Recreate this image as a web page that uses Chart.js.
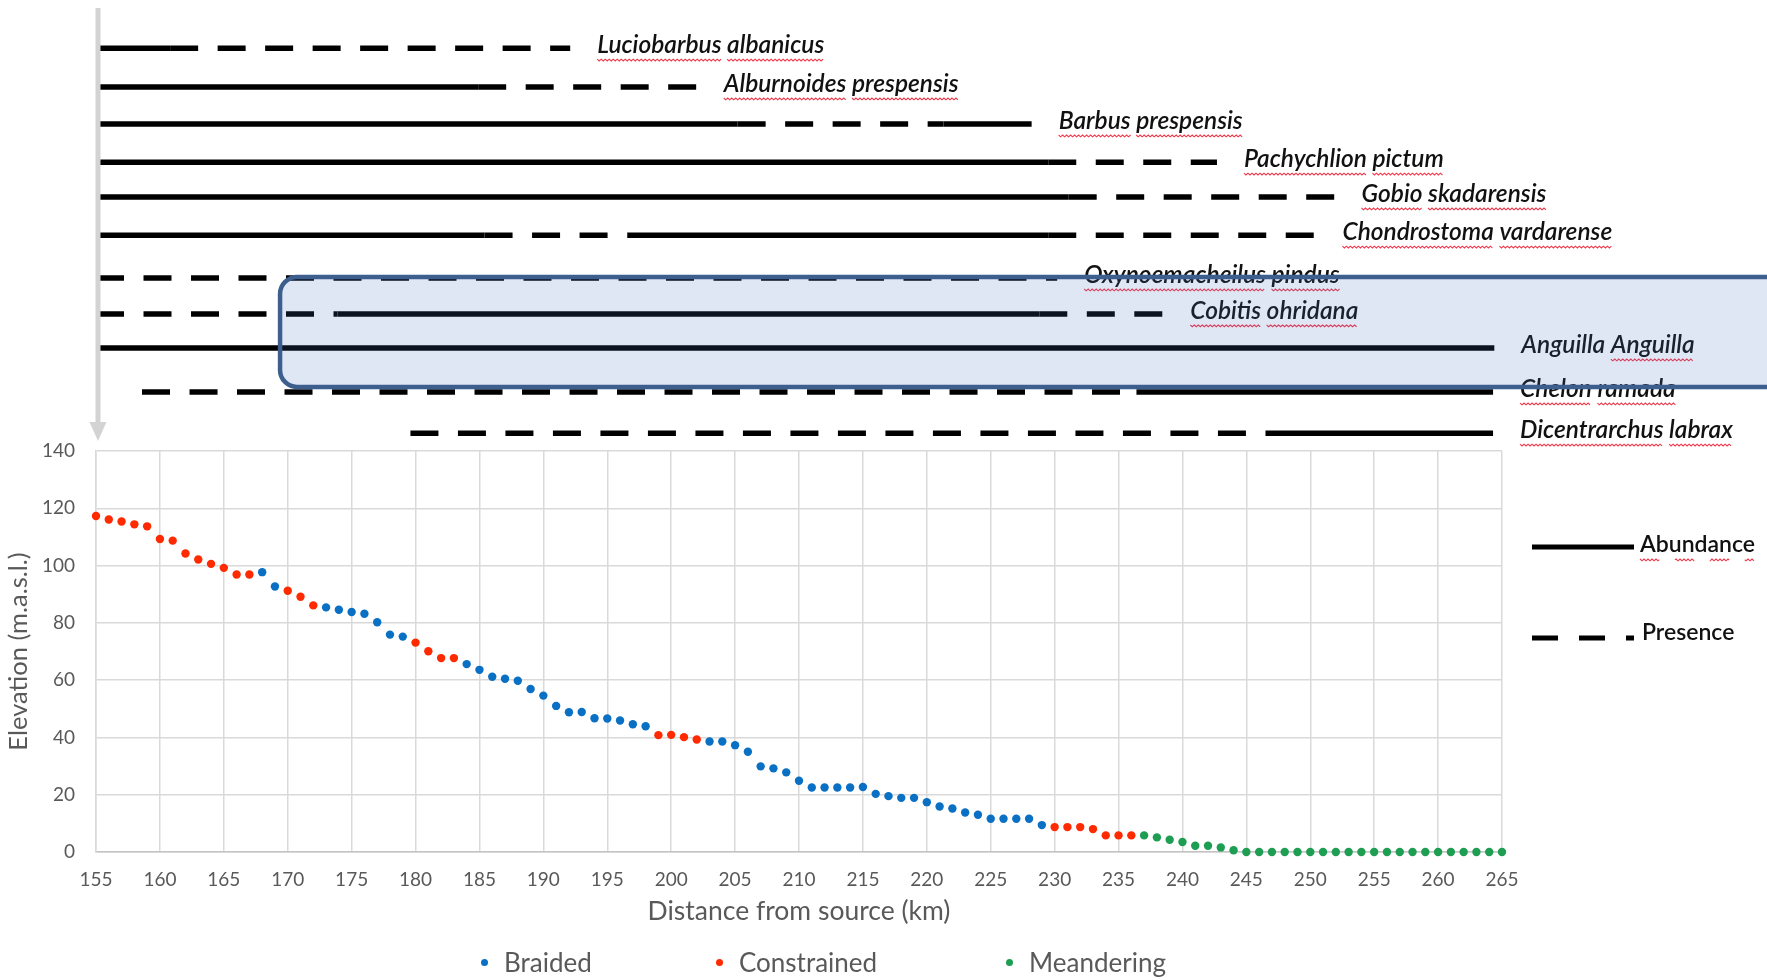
<!DOCTYPE html>
<html>
<head>
<meta charset="utf-8">
<title>Fish species along the river and elevation profile</title>
<script src="https://cdn.jsdelivr.net/npm/chart.js@4.4.1/dist/chart.umd.min.js"></script>
<style>
  html, body { margin: 0; padding: 0; background: #fff; }
  #page { position: relative; width: 1767px; height: 980px; overflow: hidden; font-family: Lato, sans-serif; }
  #speciesChart { position: absolute; left: 0; top: 0; }
  #profileChart { position: absolute; left: 0; top: 430px; }
  .legend-item { position: absolute; top: 946px; height: 32px; line-height: 32px; font-size: 26px; color: #595959; white-space: nowrap; padding-left: 23px; }
  .legend-dot { position: absolute; left: 0; top: 13px; width: 7px; height: 7px; border-radius: 50%; }
</style>
</head>
<body>
<div id="page">
  <canvas id="speciesChart" width="1767" height="450"></canvas>
  <canvas id="profileChart" width="1767" height="550"></canvas>
  <div id="reachLegend"></div>
</div>
<script>
// Elevation profile: one point per km
const km = [
  155, 156, 157, 158, 159, 160, 161, 162, 163, 164,
  165, 166, 167, 168, 169, 170, 171, 172, 173, 174,
  175, 176, 177, 178, 179, 180, 181, 182, 183, 184,
  185, 186, 187, 188, 189, 190, 191, 192, 193, 194,
  195, 196, 197, 198, 199, 200, 201, 202, 203, 204,
  205, 206, 207, 208, 209, 210, 211, 212, 213, 214,
  215, 216, 217, 218, 219, 220, 221, 222, 223, 224,
  225, 226, 227, 228, 229, 230, 231, 232, 233, 234,
  235, 236, 237, 238, 239, 240, 241, 242, 243, 244,
  245, 246, 247, 248, 249, 250, 251, 252, 253, 254,
  255, 256, 257, 258, 259, 260, 261, 262, 263, 264,
  265
];
const elevation = [
  117.3, 116.1, 115.4, 114.4, 113.7, 109.3, 108.7, 104.2, 102.1, 100.6,
  99.2, 96.9, 96.9, 97.7, 92.7, 91.2, 89.1, 86.1, 85.4, 84.6,
  83.8, 83.2, 80.2, 75.9, 75.2, 73.1, 70.1, 67.7, 67.7, 65.6,
  63.6, 61.2, 60.5, 59.8, 56.9, 54.6, 51.0, 48.8, 48.9, 46.7,
  46.6, 45.9, 44.6, 43.9, 40.8, 40.9, 40.1, 39.3, 38.6, 38.6,
  37.3, 35.0, 29.9, 29.2, 27.8, 24.9, 22.5, 22.5, 22.5, 22.5,
  22.7, 20.3, 19.5, 18.9, 18.9, 17.4, 15.9, 15.2, 13.8, 13.0,
  11.6, 11.6, 11.6, 11.6, 9.4, 8.7, 8.7, 8.7, 8.0, 5.8,
  5.8, 5.8, 5.8, 5.1, 4.3, 3.5, 2.2, 2.2, 1.6, 0.6,
  0, 0, 0, 0, 0, 0, 0, 0, 0, 0,
  0, 0, 0, 0, 0, 0, 0, 0, 0, 0,
  0
];
// B = braided, C = constrained, M = meandering
const reach = [
  'C', 'C', 'C', 'C', 'C', 'C', 'C', 'C', 'C', 'C',
  'C', 'C', 'C', 'B', 'B', 'C', 'C', 'C', 'B', 'B',
  'B', 'B', 'B', 'B', 'B', 'C', 'C', 'C', 'C', 'B',
  'B', 'B', 'B', 'B', 'B', 'B', 'B', 'B', 'B', 'B',
  'B', 'B', 'B', 'B', 'C', 'C', 'C', 'C', 'B', 'B',
  'B', 'B', 'B', 'B', 'B', 'B', 'B', 'B', 'B', 'B',
  'B', 'B', 'B', 'B', 'B', 'B', 'B', 'B', 'B', 'B',
  'B', 'B', 'B', 'B', 'B', 'C', 'C', 'C', 'C', 'C',
  'C', 'C', 'M', 'M', 'M', 'M', 'M', 'M', 'M', 'M',
  'M', 'M', 'M', 'M', 'M', 'M', 'M', 'M', 'M', 'M',
  'M', 'M', 'M', 'M', 'M', 'M', 'M', 'M', 'M', 'M',
  'M'
];
const reachTypes = ['B', 'C', 'M'];
const reachNames = ['Braided', 'Constrained', 'Meandering'];
const reachColors = ['#0A70C4', '#FF2A00', '#1E9E52'];

// Species ranges along the river
const species = [
  'Luciobarbus albanicus', 'Alburnoides prespensis', 'Barbus prespensis',
  'Pachychlion pictum', 'Gobio skadarensis', 'Chondrostoma vardarense',
  'Oxynoemacheilus pindus', 'Cobitis ohridana', 'Anguilla Anguilla',
  'Chelon ramada', 'Dicentrarchus labrax'
];
const speciesLevel = [1.04, 2.1, 3.11, 4.15, 5.1, 6.14, 7.31, 8.29, 9.22, 10.42, 11.54];
// [from km, to km, 'A' = abundance | 'P' = presence]
const speciesRanges = [
  [[155, 160.8, 'A'], [160.8, 192.1, 'P']],
  [[155, 184.9, 'A'], [184.9, 202.0, 'P']],
  [[155, 205.2, 'A'], [205.2, 221.3, 'P'], [221.3, 228.2, 'A']],
  [[155, 229.5, 'A'], [229.5, 242.7, 'P']],
  [[155, 231.1, 'A'], [231.1, 251.9, 'P']],
  [[155, 185.4, 'A'], [185.4, 196.6, 'P'], [196.6, 229.5, 'A'], [229.5, 250.4, 'P']],
  [[155, 230.2, 'P']],
  [[155, 173.9, 'P'], [173.9, 228.8, 'A'], [228.8, 238.5, 'P']],
  [[155, 264.4, 'A']],
  [[158.6, 236.4, 'P'], [236.4, 264.3, 'A']],
  [[179.6, 246.5, 'P'], [246.5, 264.3, 'A']]
];
// highlighted group (km start, lane top, lane bottom)
const highlight = { fromKm: 169.4, topLevel: 7.28, bottomLevel: 10.28 };

const DASH = [28, 19.5];

function squiggle(ctx, x0, y0, w) {
  ctx.save();
  ctx.strokeStyle = '#f2384a';
  ctx.lineWidth = 1.1;
  ctx.beginPath();
  for (let i = 0; i <= w; i += 2) {
    const yy = y0 + ((i / 2) % 2 ? 1.8 : 0);
    if (i === 0) ctx.moveTo(x0 + i, yy); else ctx.lineTo(x0 + i, yy);
  }
  ctx.stroke();
  ctx.restore();
}

function roundedBox(ctx, l, t, r, b, rad) {
  ctx.beginPath();
  ctx.moveTo(l + rad, t);
  ctx.lineTo(r, t);
  ctx.lineTo(r, b);
  ctx.lineTo(l + rad, b);
  ctx.arcTo(l, b, l, b - rad, rad);
  ctx.lineTo(l, t + rad);
  ctx.arcTo(l, t, l + rad, t, rad);
  ctx.closePath();
}

// Species labels, distance arrow and highlight box
const speciesDecor = {
  id: 'speciesDecor',
  afterDatasetsDraw(chart) {
    const { ctx, scales: { x, y } } = chart;
    ctx.save();
    ctx.font = 'italic 600 24.5px Lato';
    ctx.fillStyle = '#111';
    ctx.textBaseline = 'middle';
    const space = ctx.measureText(' ').width;
    species.forEach((name, i) => {
      const ranges = speciesRanges[i];
      const end = ranges[ranges.length - 1][1];
      const px = x.getPixelForValue(end) + 27;
      const py = y.getPixelForValue(speciesLevel[i]) - 3;
      ctx.fillText(name, px, py);
      let wx = px;
      name.split(' ').forEach((word, k) => {
        const w = ctx.measureText(word).width;
        if (!(name === 'Anguilla Anguilla' && k === 0)) squiggle(ctx, wx, py + 14, w);
        wx += w + space;
      });
    });
    ctx.restore();
  },
  afterDraw(chart) {
    const { ctx, chartArea, scales: { x, y } } = chart;
    ctx.save();
    // grey arrow (downstream direction)
    const ax = chartArea.left + 2;
    ctx.strokeStyle = '#d3d3d3';
    ctx.fillStyle = '#d3d3d3';
    ctx.lineWidth = 5;
    ctx.beginPath();
    ctx.moveTo(ax, 8);
    ctx.lineTo(ax, 424);
    ctx.stroke();
    ctx.beginPath();
    ctx.moveTo(ax - 8.5, 422);
    ctx.lineTo(ax + 8.5, 422);
    ctx.lineTo(ax, 441);
    ctx.closePath();
    ctx.fill();
    // highlight box
    const l = x.getPixelForValue(highlight.fromKm);
    const t = y.getPixelForValue(highlight.topLevel);
    const b = y.getPixelForValue(highlight.bottomLevel);
    roundedBox(ctx, l, t, chart.width + 20, b, 17);
    ctx.fillStyle = 'rgba(68, 114, 196, 0.17)';
    ctx.fill();
    ctx.strokeStyle = '#3d5f8e';
    ctx.lineWidth = 4.5;
    ctx.stroke();
    ctx.restore();
  }
};

const speciesDatasets = [];
species.forEach((name, i) => {
  speciesRanges[i].forEach(([from, to, kind]) => {
    speciesDatasets.push({
      label: name,
      data: [{ x: from, y: speciesLevel[i] }, { x: to, y: speciesLevel[i] }],
      borderColor: '#000',
      borderWidth: 5.5,
      borderDash: kind === 'P' ? DASH : [],
      borderCapStyle: 'butt',
      pointRadius: 0,
      fill: false
    });
  });
});

new Chart(document.getElementById('speciesChart'), {
  type: 'line',
  data: { datasets: speciesDatasets },
  options: {
    responsive: false,
    animation: false,
    layout: { padding: { left: 96, right: 265, top: 10, bottom: 0 } },
    scales: {
      x: { type: 'linear', min: 155, max: 265, display: false },
      y: { type: 'linear', min: 0, max: 12, reverse: true, display: false }
    },
    plugins: { legend: { display: false }, tooltip: { enabled: false } }
  },
  plugins: [speciesDecor]
});

// Abundance / Presence key on the right of the profile
const lineKey = {
  id: 'lineKey',
  afterDraw(chart) {
    const { ctx, chartArea } = chart;
    const x0 = chartArea.right + 30;
    const x1 = x0 + 102;
    ctx.save();
    ctx.strokeStyle = '#000';
    ctx.lineWidth = 5;
    ctx.lineCap = 'butt';
    ctx.beginPath();
    ctx.moveTo(x0, chartArea.top + 96);
    ctx.lineTo(x1, chartArea.top + 96);
    ctx.stroke();
    ctx.setLineDash([26, 21]);
    ctx.beginPath();
    ctx.moveTo(x0, chartArea.top + 187);
    ctx.lineTo(x1, chartArea.top + 187);
    ctx.stroke();
    ctx.font = '600 23px Lato';
    ctx.fillStyle = '#111';
    ctx.textBaseline = 'middle';
    ctx.fillText('Abundance', x1 + 6, chartArea.top + 94);
    squiggle(ctx, x1 + 6, chartArea.top + 108, ctx.measureText('Abundance').width);
    ctx.fillText('Presence', x1 + 8, chartArea.top + 182);
    ctx.restore();
  }
};

const profileDatasets = reachTypes.map((t, i) => ({
  label: reachNames[i],
  data: km.map((x, j) => ({ x, y: elevation[j], t: reach[j] })).filter(p => p.t === t),
  backgroundColor: reachColors[i],
  borderWidth: 0,
  pointRadius: 4.2,
  clip: false
}));

const axisGrey = '#595959';
const profileChart = new Chart(document.getElementById('profileChart'), {
  type: 'scatter',
  data: { datasets: profileDatasets },
  options: {
    responsive: false,
    animation: false,
    layout: { padding: { left: 0, right: 265, top: 21, bottom: 53 } },
    scales: {
      x: {
        type: 'linear', min: 155, max: 265,
        ticks: { stepSize: 5, padding: 16, color: axisGrey, font: { family: 'Lato', size: 19 } },
        grid: { color: '#d9d9d9', lineWidth: 1.5, drawTicks: false },
        border: { color: '#c4c4c4', width: 1.5 },
        title: { display: true, text: 'Distance from source (km)', color: axisGrey,
                 font: { family: 'Lato', size: 26.5 }, padding: { top: 0, bottom: 0 } },
        afterFit(scale) { scale.height = 75; }
      },
      y: {
        min: 0, max: 140,
        ticks: { stepSize: 20, padding: 21, color: axisGrey, font: { family: 'Lato', size: 19 } },
        grid: { color: '#d9d9d9', lineWidth: 1.5, drawTicks: false },
        border: { color: '#d9d9d9', width: 1.5 },
        title: { display: true, text: 'Elevation (m.a.s.l.)', color: axisGrey,
                 font: { family: 'Lato', size: 25.5 }, padding: { top: 3, bottom: 0 } },
        afterFit(scale) {
          scale.width = 96;
          // the tick padding should not push the plot area down
          scale.paddingTop = 0;
          scale.paddingBottom = 0;
        }
      }
    },
    plugins: { legend: { display: false }, tooltip: { enabled: false } }
  },
  plugins: [lineKey]
});

// pin the plot area to the original's frame (canvas y 21 .. 422)
for (let i = 0; i < 3; i++) {
  const ca = profileChart.chartArea;
  const dt = 21 - ca.top;
  const db = ca.bottom - 422;
  if (Math.abs(dt) < 0.5 && Math.abs(db) < 0.5) break;
  const pad = profileChart.options.layout.padding;
  profileChart.options.layout.padding = {
    left: pad.left, right: pad.right,
    top: Math.max(0, pad.top + dt), bottom: Math.max(0, pad.bottom + db)
  };
  profileChart.update();
}

// Reach-type legend below the profile
const legendLeft = [481, 716, 1006];
const legendBox = document.getElementById('reachLegend');
reachNames.forEach((name, i) => {
  const item = document.createElement('div');
  item.className = 'legend-item';
  item.style.left = legendLeft[i] + 'px';
  item.innerHTML = `<span class="legend-dot" style="background:${reachColors[i]}"></span>${name}`;
  legendBox.appendChild(item);
});
</script>
</body>
</html>
